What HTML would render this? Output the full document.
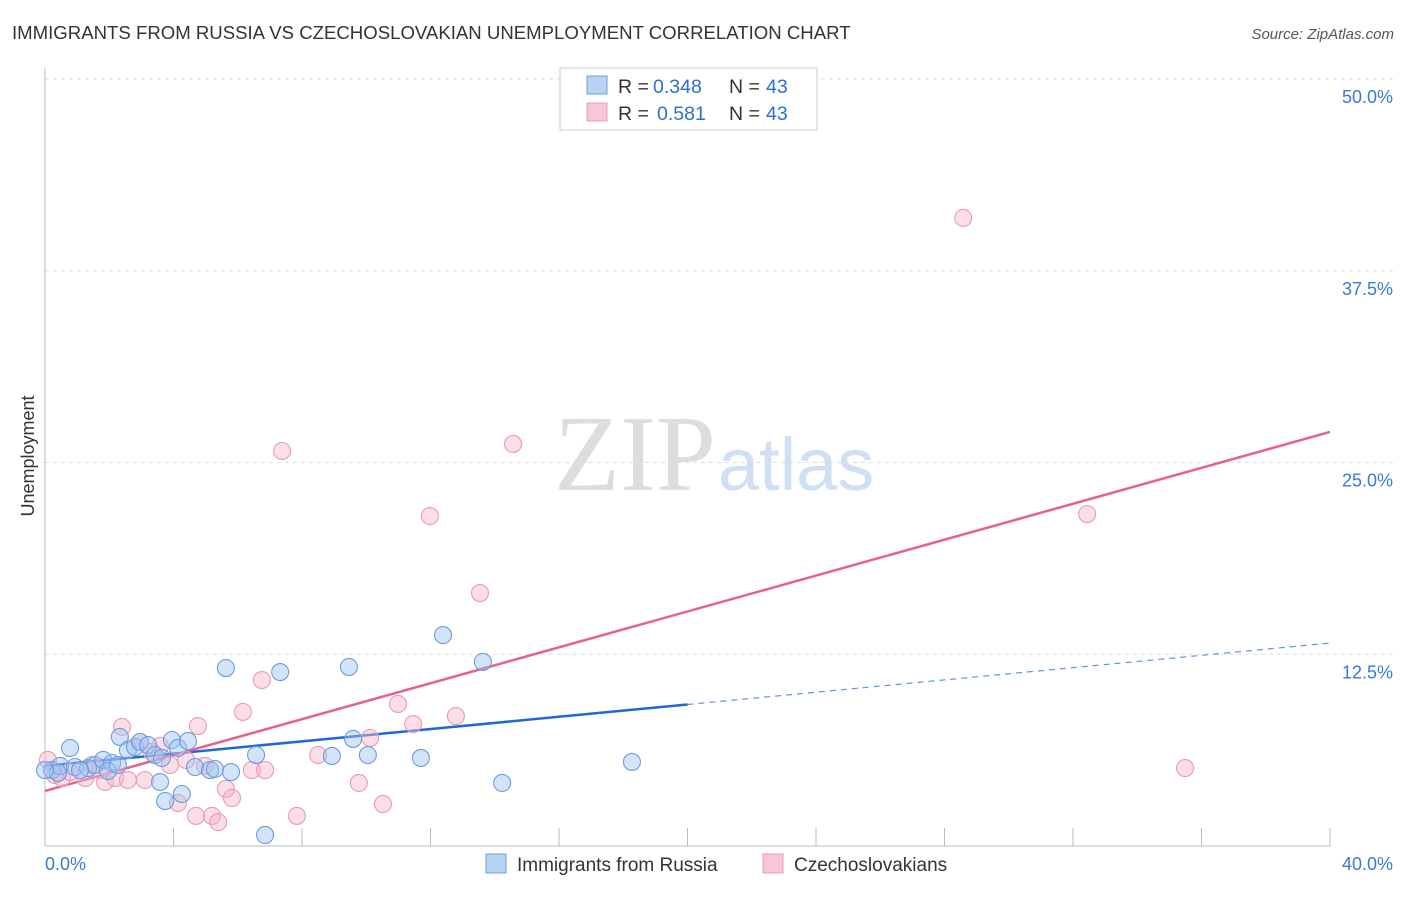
<!DOCTYPE html>
<html><head><meta charset="utf-8"><style>
body{margin:0;background:#fff;font-family:"Liberation Sans",sans-serif;}
</style></head><body>
<svg id="chart" width="1406" height="892" xmlns="http://www.w3.org/2000/svg">
<text x="12" y="39" font-size="18.6" fill="#333">IMMIGRANTS FROM RUSSIA VS CZECHOSLOVAKIAN UNEMPLOYMENT CORRELATION CHART</text>
<text x="1394" y="39" font-size="15" fill="#555" font-style="italic" text-anchor="end">Source: ZipAtlas.com</text>
<text x="716" y="490" font-size="108" fill="#ddd" text-anchor="end" font-family="Liberation Serif,serif">ZIP</text>
<text x="718" y="490" font-size="74" fill="#cfe0f4">atlas</text>
<g id="grid"></g><g id="axes"></g><g id="lines"></g><g id="points"></g>
<text transform="translate(34,456) rotate(-90)" font-size="18" fill="#333" text-anchor="middle">Unemployment</text>
<g>
<rect x="560" y="68" width="257" height="62" fill="#fff" stroke="#ccc"/>
<rect x="587" y="76" width="20" height="18" fill="#b8d3f4" stroke="#6c9ce0"/>
<rect x="587" y="103" width="20" height="18" fill="#f9c6d5" stroke="#ec9ab4"/>
<text y="93" font-size="19.5" fill="#333"><tspan x="618">R =</tspan><tspan x="653" fill="#2a6fd6">0.348</tspan><tspan x="729">N =</tspan><tspan x="766" fill="#2a6fd6">43</tspan></text>
<text y="120" font-size="19.5" fill="#333"><tspan x="618">R =</tspan><tspan x="657" fill="#2a6fd6">0.581</tspan><tspan x="729">N =</tspan><tspan x="766" fill="#2a6fd6">43</tspan></text>
</g>
<g>
<rect x="486" y="854" width="20" height="19" fill="#b8d3f4" stroke="#6c9ce0"/>
<text x="517" y="871" font-size="19" fill="#333">Immigrants from Russia</text>
<rect x="763" y="854" width="20" height="19" fill="#f9c6d5" stroke="#ec9ab4"/>
<text x="794" y="871" font-size="19" fill="#333">Czechoslovakians</text>
</g>
</svg>
<script>
const russiaX=[0.78,0.22,0.47,0.93,1.34,1.56,1.81,2.09,2.33,2.58,2.80,2.96,3.21,3.42,3.58,3.74,3.95,4.14,4.26,4.45,4.67,5.14,5.29,5.63,5.79,6.57,6.85,7.32,8.93,9.46,9.59,10.05,11.70,12.39,13.63,14.23,18.27,0.40,1.09,0.0,1.96,2.27,3.64];
const russiaY=[6.39,4.95,5.22,5.15,5.08,5.28,5.61,5.41,7.11,6.26,6.45,6.78,6.58,5.93,4.17,2.93,6.91,6.39,3.39,6.84,5.15,4.95,5.02,11.60,4.82,5.93,0.72,11.34,5.87,11.67,6.98,5.93,5.74,13.75,12.00,4.11,5.48,4.76,4.95,4.95,4.89,5.28,5.74];
const czechX=[0.09,0.31,0.53,0.78,1.25,1.46,1.71,1.87,2.18,2.40,2.58,2.96,3.11,3.33,3.58,3.89,4.14,4.39,4.76,4.70,4.98,5.20,5.39,5.63,5.82,6.16,6.44,6.75,6.85,7.38,7.84,8.50,9.77,10.12,10.52,10.99,11.46,11.98,12.79,13.54,14.57,28.58,32.44,35.49];
const czechY=[5.61,4.63,4.43,4.82,4.43,5.28,4.95,4.17,4.43,7.76,4.30,6.78,4.30,6.13,6.52,5.28,2.80,5.61,7.82,1.96,5.22,1.96,1.56,3.72,3.13,8.74,4.95,10.82,4.95,25.75,1.96,5.93,4.11,7.04,2.74,9.26,7.95,21.51,8.47,16.49,26.21,40.94,21.64,5.08];
const russiaTrend=[5.22,13.23];
const russiaSolidEnd=20;
const czechTrend=[3.59,26.99];
const yTicks=[12.5,25.0,37.5,50.0];
const yTickLabels=["12.5%","25.0%","37.5%","50.0%"];
const xTicks=[0,4,8,12,16,20,24,28,32,36,40];
const NS="http://www.w3.org/2000/svg";
const X=v=>45+v*32.125, Y=v=>846-v*15.34;
function mk(p,t,a){const e=document.createElementNS(NS,t);for(const k in a)e.setAttribute(k,a[k]);document.getElementById(p).appendChild(e);return e;}
yTicks.forEach((t,i)=>{
 const g=mk('grid','line',{x1:45,x2:1394,y1:Y(t),y2:Y(t),stroke:'#ddd','stroke-dasharray':'4,4'});
 
 
 const l=mk('grid','text',{x:1393,y:Y(t)+24,'font-size':18,fill:'#3a78d8','text-anchor':'end'});
 l.textContent=yTickLabels[i];
 
 
});
const ax=mk('axes','line',{x1:45,x2:45,y1:68,y2:846,stroke:'#bbb'});


const bx=mk('axes','line',{x1:45,x2:1330,y1:846,y2:846,stroke:'#bbb'});


xTicks.forEach(t=>{const e=mk('axes','line',{x1:X(t),x2:X(t),y1:828,y2:846,stroke:'#bbb'});
 
 });
const xl0=mk('axes','text',{x:45,y:870,'font-size':18,fill:'#3a78d8'});xl0.textContent='0.0%';


const xl1=mk('axes','text',{x:1393,y:870,'font-size':18,fill:'#3a78d8','text-anchor':'end'});xl1.textContent='40.0%';


function pts(xs,ys,fill,stroke,name){xs.forEach((x,i)=>{const c=mk('points','circle',{cx:X(x),cy:Y(ys[i]),r:8.5,fill:fill,stroke:stroke,'stroke-width':1.1});
 
 });}
pts(czechX,czechY,'rgba(248,182,202,0.45)','#ec9ab4','czech-point');
pts(russiaX,russiaY,'rgba(160,196,240,0.45)','#6c9ce0','russia-point');
const ry=x=>russiaTrend[0]+(russiaTrend[1]-russiaTrend[0])*x/40;
const cy=x=>czechTrend[0]+(czechTrend[1]-czechTrend[0])*x/40;
const l1=mk('lines','line',{x1:X(0),y1:Y(ry(0)),x2:X(russiaSolidEnd),y2:Y(ry(russiaSolidEnd)),stroke:'#2068d8','stroke-width':2.5});


const l2=mk('lines','line',{x1:X(russiaSolidEnd),y1:Y(ry(russiaSolidEnd)),x2:X(40),y2:Y(ry(40)),stroke:'#5f93e0','stroke-width':1.2,'stroke-dasharray':'6,5'});


const l3=mk('lines','line',{x1:X(0),y1:Y(cy(0)),x2:X(40),y2:Y(cy(40)),stroke:'#e8608c','stroke-width':2.5});


</script>
</body></html>
